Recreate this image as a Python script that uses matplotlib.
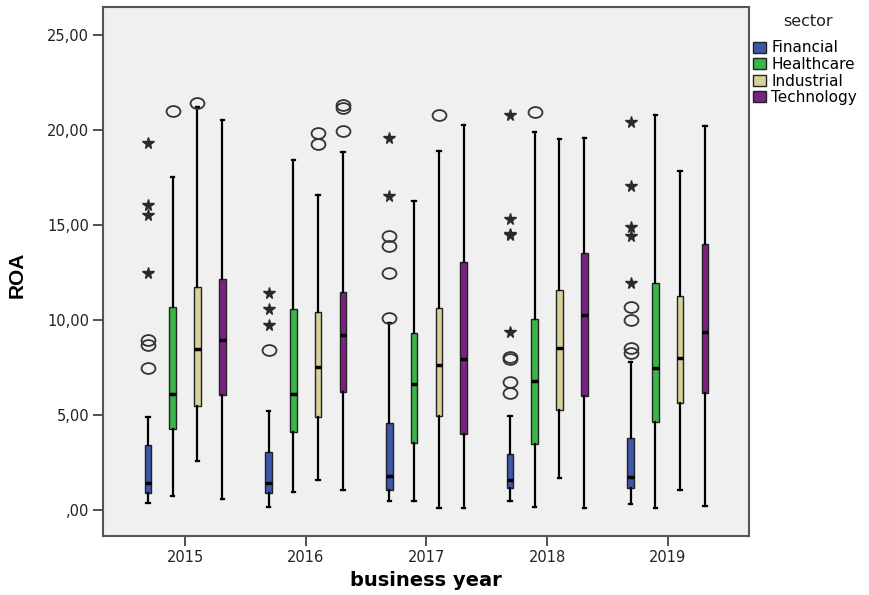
import numpy as np
import matplotlib.pyplot as plt
from matplotlib.patches import Patch
from matplotlib.path import Path
from matplotlib.ticker import FuncFormatter

plt.rcParams["font.family"] = ["DejaVu Sans"]

years = ["2015", "2016", "2017", "2018", "2019"]
sectors = ["Financial", "Healthcare", "Industrial", "Technology"]
colors = ["#3D57AB", "#3BB54A", "#D8D29A", "#7A2182"]

# box statistics per sector, one entry per year: (whislo, q1, med, q3, whishi)
financial = [(0.38, 0.88, 1.40, 3.42, 4.91),
             (0.14, 0.88, 1.40, 3.04, 5.23),
             (0.47, 1.05, 1.79, 4.56, 9.83),
             (0.47, 1.14, 1.58, 2.95, 4.95),
             (0.30, 1.14, 1.75, 3.81, 7.80)]
healthcare = [(0.74, 4.25, 6.10, 10.70, 17.54),
              (0.96, 4.12, 6.10, 10.56, 18.40),
              (0.47, 3.51, 6.63, 9.33, 16.28),
              (0.14, 3.47, 6.81, 10.04, 19.88),
              (0.09, 4.65, 7.49, 11.93, 20.80)]
industrial = [(2.60, 5.47, 8.46, 11.75, 21.20),
              (1.58, 4.91, 7.54, 10.40, 16.58),
              (0.09, 4.95, 7.63, 10.65, 18.91),
              (1.67, 5.26, 8.54, 11.58, 19.53),
              (1.05, 5.65, 8.02, 11.28, 17.86)]
technology = [(0.56, 6.04, 8.95, 12.14, 20.50),
              (1.05, 6.21, 9.19, 11.49, 18.82),
              (0.12, 4.00, 7.93, 13.04, 20.26),
              (0.09, 6.00, 10.26, 13.54, 19.56),
              (0.23, 6.14, 9.39, 14.00, 20.23)]

# outliers (circles) and extreme values (stars): (sector index, year index, value)
outliers = [(0, 0, 8.95), (0, 0, 8.68), (0, 0, 7.46), (1, 0, 21.0), (2, 0, 21.4),
            (0, 1, 8.42), (2, 1, 19.82), (2, 1, 19.26), (3, 1, 21.3), (3, 1, 21.15), (3, 1, 19.95),
            (0, 2, 14.42), (0, 2, 13.9), (0, 2, 12.46), (0, 2, 10.09), (2, 2, 20.8),
            (0, 3, 8.03), (0, 3, 7.93), (0, 3, 6.75), (0, 3, 6.14), (1, 3, 20.93),
            (0, 4, 10.7), (0, 4, 10.0), (0, 4, 8.51), (0, 4, 8.25)]
extremes = [(0, 0, 19.3), (0, 0, 16.05), (0, 0, 15.5), (0, 0, 12.46),
            (0, 1, 11.44), (0, 1, 10.6), (0, 1, 9.72),
            (0, 2, 19.6), (0, 2, 16.54),
            (0, 3, 20.8), (0, 3, 15.3), (0, 3, 14.55), (0, 3, 14.45), (0, 3, 9.39),
            (0, 4, 20.44), (0, 4, 17.07), (0, 4, 14.91), (0, 4, 14.42), (0, 4, 11.96)]

offsets = [-0.308, -0.103, 0.103, 0.308]
box_w = 0.055

# slightly flattened ring for outlier markers
circ = Path.unit_circle()
ellipse = Path(circ.vertices * np.array([1.0, 0.78]), circ.codes)

fig = plt.figure(figsize=(8.69, 5.95), dpi=100)
ax = fig.add_axes([0.1185, 0.0997, 0.7435, 0.8885])
ax.set_facecolor("#F0F0F0")

for s, data in enumerate([financial, healthcare, industrial, technology]):
    stats = []
    for lo, q1, med, q3, hi in data:
        stats.append(dict(whislo=lo, q1=q1, med=med, q3=q3, whishi=hi, fliers=[]))
    pos = [i + offsets[s] for i in range(len(years))]
    ax.bxp(stats, positions=pos, widths=box_w, patch_artist=True, showfliers=False,
           boxprops=dict(facecolor=colors[s], edgecolor="#222222", linewidth=1.0),
           medianprops=dict(color="black", linewidth=2.5),
           whiskerprops=dict(color="black", linewidth=1.6),
           capprops=dict(color="black", linewidth=1.6), capwidths=0.028,
           manage_ticks=False, zorder=3)

ax.plot([y + offsets[s] for s, y, v in outliers], [v for s, y, v in outliers],
        linestyle="none", marker=ellipse, markersize=10, markerfacecolor="none",
        markeredgecolor="#333333", markeredgewidth=1.3, zorder=4)
ax.plot([y + offsets[s] for s, y, v in extremes], [v for s, y, v in extremes],
        linestyle="none", marker="*", markersize=8.5, color="#2a2a2a", zorder=4)

ax.set_xlim(-0.68, 4.674)
ax.set_ylim(-1.35, 26.47)
ax.set_xticks(range(len(years)))
ax.set_xticklabels(years)
ax.set_yticks([0, 5, 10, 15, 20, 25])
ax.yaxis.set_major_formatter(FuncFormatter(
    lambda v, p: ",00" if v == 0 else f"{v:.2f}".replace(".", ",")))
ax.tick_params(direction="out", length=7, width=1.2, labelsize=10.5,
               colors="#333333", labelcolor="#222222", pad=3)
for sp in ax.spines.values():
    sp.set_color("#555555")
    sp.set_linewidth(1.5)

ax.set_ylabel("ROA", family="Liberation Sans", fontsize=15, fontweight="bold")
ax.yaxis.set_label_coords(-0.118, 0.493)
ax.set_xlabel("business year", fontsize=14, fontweight="bold", va="top")
ax.xaxis.set_label_coords(0.5, -0.066)

# legend at the right, title placed separately above the entries
fig.text(808 / 869, 1 - 22 / 595, "sector", fontsize=11.5, ha="center", va="center",
         color="#222222")
handles = [Patch(facecolor=c, edgecolor="#222222", label=n) for c, n in zip(colors, sectors)]
fig.legend(handles=handles, loc="upper left", bbox_to_anchor=(0.8665, 0.932),
           frameon=False, fontsize=11, handlelength=0.85, handleheight=0.75,
           handletextpad=0.35, labelspacing=0.1, borderaxespad=0.0, borderpad=0.0)

fig.savefig("out.png", dpi=100)
